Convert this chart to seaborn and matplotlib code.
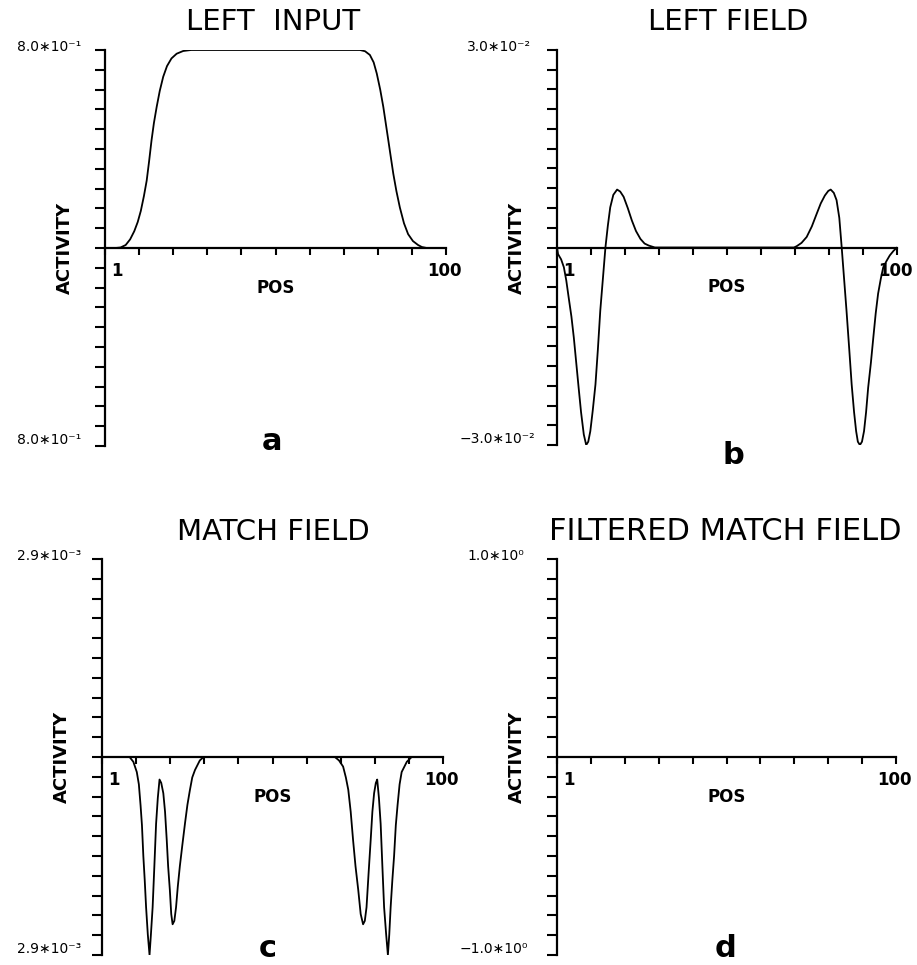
import numpy as np
import pandas as pd
import matplotlib
matplotlib.use('Agg')
import matplotlib.pyplot as plt
import seaborn as sns

# values (position 1..100, activity)
pos_a = [1, 4, 5.5, 7, 8.3, 9.5, 10.5, 11.4, 12.3, 13.1, 13.8, 14.5, 15.2, 16.0, 16.9, 17.9,
         19, 20.3, 21.8, 23.7, 26, 75, 76.5, 77.9, 79, 79.9, 80.9, 81.8, 82.5, 83.2, 84,
         84.7, 85.6, 86.6, 87.8, 89.0, 90.4, 91.9, 93, 94.4, 100]
act_a = [0, 0, 0.002, 0.012, 0.035, 0.068, 0.105, 0.15, 0.21, 0.272, 0.35, 0.434, 0.505, 0.57,
         0.635, 0.692, 0.735, 0.766, 0.785, 0.796, 0.8, 0.8, 0.795, 0.78, 0.75, 0.705, 0.64,
         0.57, 0.505, 0.44, 0.365, 0.30, 0.23, 0.164, 0.1, 0.056, 0.028, 0.012, 0.004, 0, 0]

pos_b = [1, 1.3, 2.2, 3.0, 3.7, 4.4, 5.2, 5.9, 6.6, 7.3, 8.0, 8.8, 9.5, 10.1, 10.7, 11.4, 12.2,
         12.9, 13.6, 14.4, 15.1, 15.8, 16.5, 17.4, 18.5, 19.4, 20.4, 21.6, 22.8, 24, 25.3, 26.5,
         27.7, 29.5, 70, 70.8, 72.2, 73.7, 75.2, 76.6, 77.8, 79.0, 80, 80.7, 81.6, 82.4, 83.2,
         83.9, 84.6, 85.3, 86.1, 86.8, 87.5, 88.1, 88.6, 89.2, 89.8, 90.4, 91, 91.6, 92.4, 93.1,
         93.8, 94.5, 95.3, 96.0, 97, 97.9, 99, 100]
act_b = [0, -0.001, -0.0018, -0.003, -0.005, -0.0076, -0.0105, -0.0137, -0.0175, -0.0213,
         -0.025, -0.0284, -0.0300, -0.0295, -0.0279, -0.0248, -0.0208, -0.0155, -0.0096,
         -0.0045, 0, 0.0033, 0.0061, 0.008, 0.0088, 0.0085, 0.0077, 0.006, 0.0041, 0.0025,
         0.0013, 0.0006, 0.0003, 0, 0, 0.0002, 0.0007, 0.0016, 0.0032, 0.0051, 0.0067, 0.0079,
         0.0086, 0.0088, 0.0083, 0.0072, 0.0045, 0, -0.0048, -0.0096, -0.0155, -0.0208, -0.025,
         -0.0279, -0.0295, -0.030, -0.0295, -0.0279, -0.025, -0.0213, -0.0175, -0.0137, -0.010,
         -0.007, -0.0047, -0.003, -0.002, -0.0012, -0.0005, 0]

pos_c = [1, 9, 10.1, 11.1, 11.7, 12.2, 12.6, 13.0, 13.4, 13.8, 14.3, 14.8, 15.2, 15.7, 16.2,
         16.7, 17.2, 17.7, 18.2, 18.8, 19.3, 19.8, 20.2, 20.7, 21.1, 21.5, 22.0, 22.5, 23.0,
         23.6, 24.3, 25.1, 25.8, 26.5, 27.2, 28.0, 29.4, 30.5, 68.6, 69.8, 71.0, 71.8, 72.5,
         73.2, 73.9, 74.6, 75.4, 76.1, 76.8, 77.3, 77.8, 78.4, 79.0, 79.5, 80.0, 80.5, 80.9,
         81.4, 81.9, 82.4, 82.9, 83.5, 84.0, 84.4, 84.8, 85.3, 85.8, 86.3, 86.8, 87.4, 88.0,
         89.5, 90.9, 100]
act_c = [0, 0, -0.00007, -0.00022, -0.0004, -0.00071, -0.001, -0.00145, -0.0018, -0.0022,
         -0.0026, -0.0029, -0.0026, -0.0022, -0.0016, -0.00098, -0.0006, -0.00033, -0.00038,
         -0.00053, -0.0008, -0.00122, -0.0016, -0.00195, -0.0023, -0.00245, -0.0024, -0.0022,
         -0.0019, -0.0016, -0.0013, -0.00097, -0.0007, -0.00049, -0.0003, -0.00019, -0.00005,
         0, 0, -0.00005, -0.00014, -0.0003, -0.00048, -0.0008, -0.00122, -0.0016, -0.00195,
         -0.0023, -0.00245, -0.0024, -0.0022, -0.0017, -0.00122, -0.0008, -0.00053, -0.00038,
         -0.00033, -0.0006, -0.00098, -0.0016, -0.0022, -0.0026, -0.0029, -0.0026, -0.0022,
         -0.0018, -0.00145, -0.001, -0.00071, -0.0004, -0.00022, -0.00007, 0, 0]

pos_d = [1, 100]
act_d = [0, 0]

titles = ['LEFT  INPUT', 'LEFT FIELD', 'MATCH FIELD', 'FILTERED MATCH FIELD']
y_limits = [0.8, 0.03, 0.0029, 1.0]
top_labels = ['8.0∗10⁻¹', '3.0∗10⁻²', '2.9∗10⁻³', '1.0∗10⁰']
bottom_labels = ['8.0∗10⁻¹', '−3.0∗10⁻²', '2.9∗10⁻³', '−1.0∗10⁰']
letters = ['a', 'b', 'c', 'd']

# layout in pixels of the 917x965 image
W, H = 917, 965
boxes = [(105, 50, 446, 446), (557, 50, 897, 445), (102, 559, 443, 955), (557, 559, 896, 955)]
title_pos = [(273, 22), (728, 22), (273, 532), (725, 532)]
title_size = [21, 21, 21, 22]
label_x = [10, 460, 10, 460]
letter_pos = [(272, 450), (733, 464), (268, 957), (725, 957)]

sns.set_style('ticks')
plt.rcParams['font.family'] = ['DejaVu Sans']
plt.rcParams['text.color'] = 'black'
plt.rcParams['axes.edgecolor'] = 'black'

fig = plt.figure(figsize=(W / 100, H / 100), dpi=100)


def fx(px):
    return px / W


def fy(py):
    return 1 - py / H


curves = [(pos_a, act_a), (pos_b, act_b), (pos_c, act_c), (pos_d, act_d)]

for i, (pos, act) in enumerate(curves):
    l, t, r, b = boxes[i]
    ymax = y_limits[i]
    ax = fig.add_axes([fx(l), fy(b), (r - l) / W, (b - t) / H])
    df = pd.DataFrame({'POS': pos, 'ACTIVITY': act})
    sns.lineplot(data=df, x='POS', y='ACTIVITY', ax=ax, color='black', linewidth=1.3,
                 estimator=None)
    ax.set_xlim(1, 100)
    ax.set_ylim(-ymax, ymax)
    ax.patch.set_visible(False)
    for s in ['top', 'right']:
        ax.spines[s].set_visible(False)
    ax.spines['left'].set_linewidth(1.6)
    ax.spines['bottom'].set_linewidth(1.6)
    ax.spines['bottom'].set_position(('data', 0))
    ax.set_xticks(np.linspace(1, 100, 11))
    ax.set_yticks(np.linspace(-ymax, ymax, 21))
    ax.set_xticklabels([])
    ax.set_yticklabels([])
    ax.tick_params(axis='x', bottom=True, direction='out', length=5, width=1.5, color='black')
    ax.tick_params(axis='y', left=True, direction='out', length=7, width=1.5, color='black')
    ax.set_xlabel('')
    ax.set_ylabel('')

    zero = (t + b) / 2
    fig.text(fx(l - 40), fy(zero), 'ACTIVITY', rotation=90, ha='center', va='center',
             fontsize=13, fontweight='bold')
    fig.text(fx((l + r) / 2), fy(zero + 40), 'POS', ha='center', va='center',
             fontsize=12, fontweight='bold')
    fig.text(fx(l + 12), fy(zero + 23), '1', ha='center', va='center',
             fontsize=12, fontweight='bold')
    fig.text(fx(r - 2), fy(zero + 23), '100', ha='center', va='center',
             fontsize=12, fontweight='bold')

    lx = label_x[i]
    fig.text(fx(lx + 7), fy(t + 1), top_labels[i], ha='left', va='baseline', fontsize=10)
    bx = lx if bottom_labels[i].startswith('−') else lx + 7
    fig.text(fx(bx), fy(b - 2), bottom_labels[i], ha='left', va='baseline', fontsize=10)

    tx, ty = title_pos[i]
    fig.text(fx(tx), fy(ty), titles[i], ha='center', va='center', fontsize=title_size[i])

    px, py = letter_pos[i]
    fig.text(fx(px), fy(py), letters[i], ha='center', va='baseline', fontsize=22,
             fontweight='bold')

fig.savefig('out.png', dpi=100)
